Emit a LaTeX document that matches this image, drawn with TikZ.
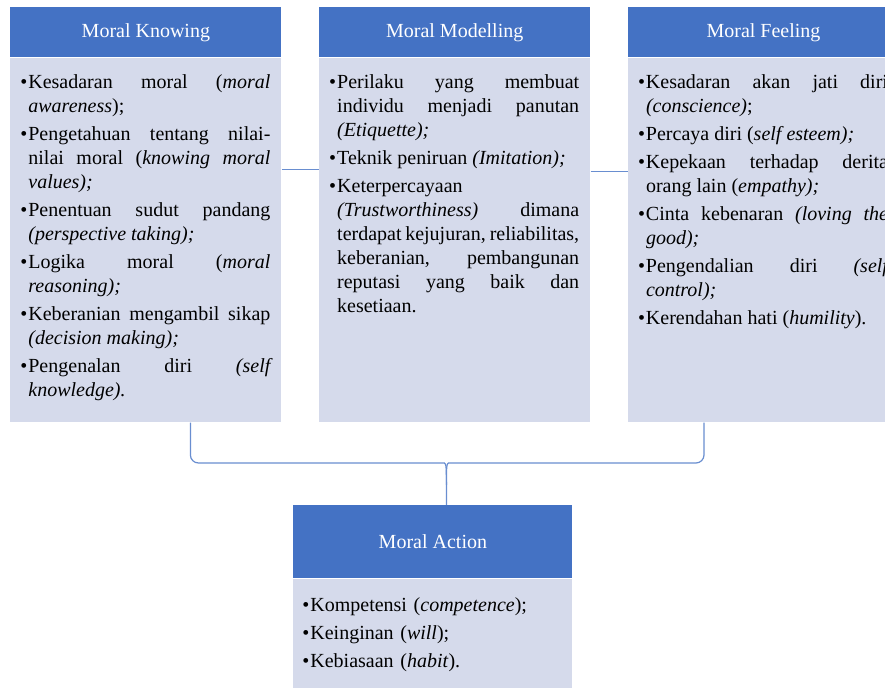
\documentclass[tikz,border=0pt]{standalone}
\usepackage{fontspec}
\setmainfont{Liberation Serif}
\usetikzlibrary{positioning,calc}
\definecolor{hdrblue}{HTML}{4472C4}
\definecolor{bodyblue}{HTML}{D5DAEB}
% bullet items with hanging indent (first one opens the paragraph, the others close the last one)
\newcommand{\fitem}{\hangindent=4pt\hangafter=1\noindent\makebox[4pt][l]{\textbullet}}
\newcommand{\bitem}{\par\fitem}

\begin{document}
\begin{tikzpicture}[
  x=0.5pt, y=-0.5pt,
  every node/.style={font=\fontsize{10}{12}\selectfont},
  header/.style={rectangle, fill=hdrblue, text=white, minimum width=135.5pt, minimum height=25pt, inner sep=0pt},
  panel/.style={rectangle, fill=bodyblue, minimum width=135.5pt, minimum height=182pt, inner sep=0pt},
  itemtext/.style={anchor=north west, text width=125pt, align=justify, inner sep=0pt,
    execute at begin node={\setlength{\parskip}{2pt}}},
  link/.style={draw=hdrblue!80, line width=0.6pt},
]

\useasboundingbox (0,0) rectangle (885,688);
\fill[white] (0,0) rectangle (885,688);
\clip (0,0) rectangle (885,688);

% ---- Top row: three columns ----
\node[header, anchor=north west] (khead) at (10,7) {Moral Knowing};
\node[panel, below=0pt of khead] (kbody) {};
\node[header, right=18.5pt of khead] (mhead) {Moral Modelling};
\node[panel, below=0pt of mhead] (mbody) {};
\node[header, right=18.5pt of mhead] (fhead) {Moral Feeling};
\node[panel, below=0pt of fhead] (fbody) {};

\node[itemtext] (ktext) at ([xshift=5pt, yshift=-8pt]kbody.north west) {%
  \fitem Kesadaran moral (\textit{moral\linebreak awareness});
  \bitem Pengetahuan tentang nilai-\linebreak nilai moral (\textit{knowing moral\linebreak values);}
  \bitem Penentuan sudut pandang\linebreak \textit{(perspective taking);}
  \bitem Logika moral (\textit{moral\linebreak reasoning);}
  \bitem Keberanian mengambil sikap\linebreak \textit{(decision making);}
  \bitem Pengenalan diri \textit{(self\linebreak knowledge).}\par};

\node[itemtext] (mtext) at ([xshift=5pt, yshift=-8pt]mbody.north west) {%
  \fitem Perilaku yang membuat\linebreak individu menjadi panutan\linebreak \textit{(Etiquette);}
  \bitem Teknik peniruan \textit{(Imitation);}
  \bitem Keterpercayaan\newline \textit{(Trustworthiness)} dimana\linebreak terdapat kejujuran, reliabilitas,\linebreak keberanian, pembangunan\linebreak reputasi yang baik dan\linebreak kesetiaan.\par};

\node[itemtext] (ftext) at ([xshift=5pt, yshift=-8pt]fbody.north west) {%
  \fitem Kesadaran akan jati diri\linebreak \textit{(conscience)};
  \bitem Percaya diri (\textit{self esteem);}
  \bitem Kepekaan terhadap derita\linebreak orang lain (\textit{empathy);}
  \bitem Cinta kebenaran \textit{(loving the\linebreak good);}
  \bitem Pengendalian diri \textit{(self\linebreak control);}
  \bitem Kerendahan hati (\textit{humility}).\par};

% ---- Bottom box ----
\node[header, anchor=north west, minimum width=139.5pt, minimum height=36.5pt] (ahead) at (293,505) {Moral Action};
\node[panel, below=0pt of ahead, minimum width=139.5pt, minimum height=60pt] (abody) {};
\node[itemtext, align=left] (atext) at ([xshift=4.5pt, yshift=-9pt]abody.north west) {%
  \fitem Kompetensi (\textit{competence});
  \bitem Keinginan (\textit{will});
  \bitem Kebiasaan (\textit{habit}).\par};

% ---- Connectors ----
\draw[link] ([yshift=35.5pt]kbody.east) -- ([yshift=35.5pt]mbody.west);
\draw[link] ([yshift=34.5pt]mbody.east) -- ([yshift=34.5pt]fbody.west);

\coordinate (ajoin) at ([xshift=6.75pt]ahead.north);
\draw[link] ([xshift=22.25pt]kbody.south) [rounded corners=4pt] |- ([xshift=-5pt, yshift=21pt]ajoin)
  [sharp corners] .. controls ([yshift=21pt]ajoin) and ([yshift=17pt]ajoin) .. ([yshift=10pt]ajoin) -- (ajoin);
\draw[link] ([xshift=-29.75pt]fbody.south) [rounded corners=4pt] |- ([xshift=5pt, yshift=21pt]ajoin)
  [sharp corners] .. controls ([yshift=21pt]ajoin) and ([yshift=17pt]ajoin) .. ([yshift=10pt]ajoin);

\end{tikzpicture}
\end{document}
